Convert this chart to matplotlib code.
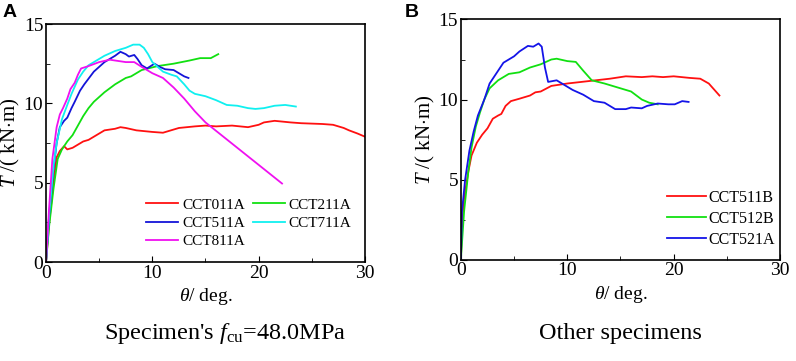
import numpy as np
import matplotlib.pyplot as plt
from matplotlib.ticker import MultipleLocator

plt.rcParams['font.family'] = ['Liberation Serif', 'DejaVu Serif']
plt.rcParams['mathtext.fontset'] = 'custom'
plt.rcParams['mathtext.rm'] = 'Liberation Serif'
plt.rcParams['mathtext.it'] = 'Liberation Serif:italic'

# panel A: specimens with fcu = 48.0 MPa
a_names = ['CCT011A', 'CCT211A', 'CCT511A', 'CCT711A', 'CCT811A']
a_colors = ['#ff1010', '#11e011', '#1414d8', '#10f0f0', '#f010f0']

t011 = [0, 0.3, 0.7, 1.0, 1.3, 1.7, 2.0, 2.5, 3.0, 3.5, 4.0, 4.5, 5.0, 5.5, 6.5, 7.0, 7.5, 8.5, 10, 11,
        12, 12.5, 14, 15, 16, 17.5, 19, 20, 20.5, 21.5, 23, 24, 26, 27, 28, 28.5, 29.3, 30]
T011 = [0, 2.5, 5.0, 6.6, 7.0, 7.3, 7.1, 7.2, 7.4, 7.6, 7.7, 7.9, 8.1, 8.3, 8.4, 8.5, 8.45, 8.3, 8.2, 8.15,
        8.35, 8.45, 8.55, 8.6, 8.55, 8.6, 8.5, 8.65, 8.8, 8.9, 8.8, 8.75, 8.7, 8.65, 8.45, 8.3, 8.1, 7.9]

t211 = [0, 0.3, 0.7, 1.1, 1.5, 2.0, 2.5, 3.0, 3.5, 4.0, 4.5, 5.5, 6.5, 7.5, 8.0, 9.0, 10.5, 12, 13.5,
        14.5, 15.5, 16.2]
T211 = [0, 2.3, 4.6, 6.5, 7.1, 7.6, 8.0, 8.6, 9.2, 9.7, 10.1, 10.7, 11.2, 11.6, 11.7, 12.1, 12.35,
        12.5, 12.7, 12.85, 12.85, 13.1]

t511 = [0, 0.3, 0.7, 1.0, 1.3, 1.7, 2.0, 2.4, 2.7, 3.2, 3.6, 4.5, 5.5, 6.5, 7.0, 7.5, 7.8, 8.3, 8.6,
        9.0, 9.5, 10.2, 10.7, 11.2, 12.0, 12.5, 13.0, 13.4]
T511 = [0, 3.0, 5.8, 7.5, 8.5, 8.9, 9.1, 9.7, 10.1, 10.8, 11.2, 12.0, 12.6, 13.0, 13.25, 13.1, 12.95,
        13.05, 12.8, 12.4, 12.2, 12.5, 12.3, 12.15, 12.1, 11.9, 11.7, 11.6]

t711 = [0, 0.3, 0.7, 1.0, 1.5, 2.0, 2.4, 3.0, 3.5, 4.0, 4.5, 5.5, 6.5, 7.5, 8.2, 8.8, 9.2, 9.6, 10.0,
        10.5, 11.0, 11.8, 12.3, 13.0, 13.5, 14.0, 15.0, 16.0, 17.0, 18.0, 19.0, 19.7, 20.5, 21.5, 22.5, 23.5]
T711 = [0, 3.0, 6.0, 7.5, 9.0, 9.9, 10.6, 11.5, 12.0, 12.4, 12.6, 13.0, 13.3, 13.5, 13.7, 13.7, 13.5,
        13.1, 12.6, 12.3, 12.0, 11.8, 11.7, 11.2, 10.8, 10.6, 10.45, 10.2, 9.9, 9.85, 9.7, 9.65, 9.7,
        9.85, 9.9, 9.8]

t811 = [0, 0.3, 0.6, 1.0, 1.3, 1.6, 2.0, 2.3, 2.7, 3.0, 3.3, 4.0, 5.0, 6.0, 6.5, 7.5, 8.3, 9.0, 10.0,
        11.0, 12.0, 13.0, 14.0, 15.0, 22.2]
T811 = [0, 3.5, 6.5, 8.5, 9.3, 9.7, 10.3, 10.9, 11.3, 11.8, 12.2, 12.35, 12.6, 12.75, 12.7, 12.6,
        12.6, 12.3, 11.9, 11.6, 11.0, 10.3, 9.5, 8.8, 4.95]

# panel B: other specimens
b_names = ['CCT511B', 'CCT512B', 'CCT521A']
b_colors = ['#ff1010', '#11e011', '#1414e8']

t511b = [0, 0.1, 0.3, 0.7, 1.0, 1.5, 2.0, 2.5, 3.0, 3.5, 3.8, 4.2, 4.7, 5.5, 6.5, 7.0, 7.5, 8.5, 10,
         12, 14, 15.5, 17, 18, 19, 20, 21.5, 22.5, 23.3, 24.3]
T511b = [0, 2.0, 3.8, 5.5, 6.5, 7.3, 7.8, 8.2, 8.8, 9.0, 9.1, 9.6, 9.9, 10.05, 10.25, 10.45, 10.5,
         10.85, 11.0, 11.15, 11.3, 11.45, 11.4, 11.45, 11.4, 11.45, 11.35, 11.3, 11.0, 10.25]

t512b = [0, 0.3, 0.7, 1.0, 1.4, 1.8, 2.2, 2.7, 3.5, 4.5, 5.5, 6.5, 7.5, 8.5, 9.0, 10.0, 10.8, 11.5,
         12.3, 13.5, 15.0, 16.0, 17.0, 17.7, 18.5]
T512b = [0, 3.0, 5.5, 7.0, 8.3, 9.2, 10.0, 10.7, 11.2, 11.6, 11.7, 12.0, 12.2, 12.5, 12.55, 12.4,
         12.35, 11.8, 11.2, 11.0, 10.7, 10.5, 10.0, 9.8, 9.7]

t521a = [0, 0.1, 0.4, 0.8, 1.2, 1.6, 2.2, 2.7, 3.3, 4.0, 5.0, 5.5, 6.3, 6.8, 7.3, 7.6, 7.9, 8.2, 9.0,
         9.5, 10.5, 11.5, 12.5, 13.5, 14.5, 15.5, 16.0, 17.0, 17.5, 18.5, 19.5, 20.1, 20.8, 21.4]
T521a = [0, 3.0, 5.0, 6.8, 8.0, 9.0, 10.0, 11.0, 11.6, 12.3, 12.7, 13.0, 13.35, 13.3, 13.5, 13.3,
         12.0, 11.1, 11.2, 11.0, 10.6, 10.3, 9.9, 9.8, 9.4, 9.4, 9.5, 9.45, 9.6, 9.75, 9.7, 9.7, 9.9, 9.85]

fig = plt.figure(figsize=(7.96, 3.61), dpi=100)
axA = fig.add_axes([0.0578, 0.274, 0.4007, 0.6595])
axB = fig.add_axes([0.579, 0.281, 0.401, 0.665])

for ax in (axA, axB):
    ax.set_xlim(0, 30)
    ax.set_ylim(0, 15)
    ax.xaxis.set_major_locator(MultipleLocator(10))
    ax.xaxis.set_minor_locator(MultipleLocator(5))
    ax.yaxis.set_major_locator(MultipleLocator(5))
    ax.yaxis.set_minor_locator(MultipleLocator(2.5))
    ax.tick_params(which='both', direction='in', labelsize=14, pad=2)
    ax.tick_params(which='major', length=4)
    ax.tick_params(which='minor', length=3)
    for s in ax.spines.values():
        s.set_linewidth(1.2)
    ax.set_xlabel(r'$\mathit{\theta}$/ deg.', fontsize=14, labelpad=3)
    ax.set_ylabel(r'$\mathit{T}$ /( kN$\cdot$m)', fontsize=15, labelpad=1)

lw = 1.3
a_data = [(t011, T011), (t211, T211), (t511, T511), (t711, T711), (t811, T811)]
lines = {}
for name, col, (t, T) in zip(a_names, a_colors, a_data):
    lines[name], = axA.plot(t, T, color=col, lw=lw, label=name)
order = ['CCT011A', 'CCT511A', 'CCT811A', 'CCT211A', 'CCT711A']
axA.legend([lines[n] for n in order], order, ncol=2, frameon=False, fontsize=11,
           loc='lower right', bbox_to_anchor=(1.0, 0.0), handlelength=2.1,
           handletextpad=0.25, columnspacing=0.5, labelspacing=0.3)

b_data = [(t511b, T511b), (t512b, T512b), (t521a, T521a)]
for name, col, (t, T) in zip(b_names, b_colors, b_data):
    axB.plot(t, T, color=col, lw=lw, label=name)
axB.legend(frameon=False, fontsize=11.5, loc='lower right', bbox_to_anchor=(1.03, -0.01),
           handlelength=2.4, handletextpad=0.2, labelspacing=0.3)

fig.text(0.003, 0.99, 'A', fontsize=14, fontweight='bold', family='Liberation Sans', va='top')
fig.text(0.508, 0.99, 'B', fontsize=14, fontweight='bold', family='Liberation Sans', va='top')

fig.text(0.283, 0.077, r"Specimen's $\mathit{f}_{\mathrm{cu}}$=48.0MPa", fontsize=17.5, ha='center', va='center')
fig.text(0.78, 0.077, 'Other specimens', fontsize=17.5, ha='center', va='center')

fig.savefig('out.png', dpi=100)
